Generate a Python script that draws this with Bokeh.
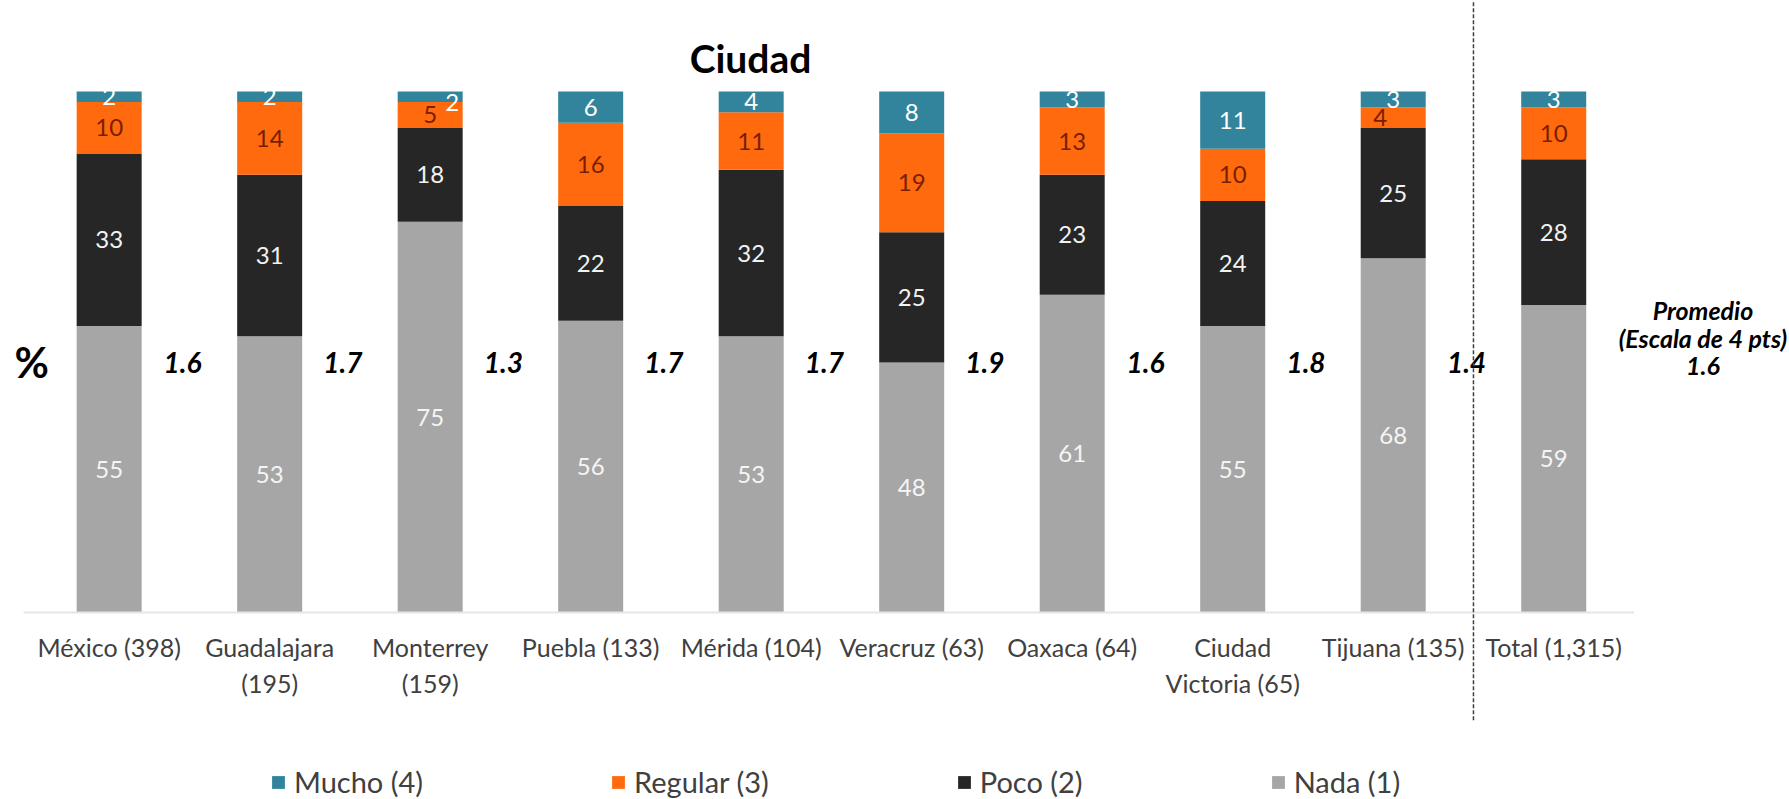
from bokeh.plotting import figure
from bokeh.models import ColumnDataSource, Range1d, FixedTicker, Legend, LegendItem, Arrow
from bokeh.core.properties import value
from bokeh.embed import file_html
from bokeh.resources import INLINE

# ---------------- data ----------------
cities = ["México (398)", "Guadalajara\n(195)", "Monterrey\n(159)", "Puebla (133)",
          "Mérida (104)", "Veracruz (63)", "Oaxaca (64)", "Ciudad\nVictoria (65)",
          "Tijuana (135)", "Total (1,315)"]
nada = [55, 53, 75, 56, 53, 48, 61, 55, 68, 59]
poco = [33, 31, 18, 22, 32, 25, 23, 24, 25, 28]
regular = [10, 14, 5, 16, 11, 19, 13, 10, 4, 10]
mucho = [2, 2, 2, 6, 4, 8, 3, 11, 3, 3]
promedios = ["1.6", "1.7", "1.3", "1.7", "1.7", "1.9", "1.6", "1.8", "1.4"]
promedio_total = "1.6"
series_labels = ["Nada (1)", "Poco (2)", "Regular (3)", "Mucho (4)"]

# ---------------- styles ----------------
colors = ["#A6A6A6", "#262626", "#FF6A0E", "#31849B"]
label_colors = ["#F5F5F5", "#F2F2F2", "#7A1E00", "#FFFFFF"]
FONT = "Lato"
# small label nudges (pixels) for crowded segments: (city index, series index) -> (dx, dy)
nudges = {(2, 3): (22, 6), (8, 2): (-13, 0)}

x = list(range(len(cities)))
src = ColumnDataSource(dict(x=x, nada=nada, poco=poco, regular=regular, mucho=mucho))

p = figure(width=1789, height=799, output_backend="svg", toolbar_location=None,
           x_range=Range1d(-0.677, 10.469), y_range=Range1d(-35.9, 117.47),
           y_axis_location=None, min_border_left=0, min_border_right=0,
           min_border_top=0, min_border_bottom=0)
p.outline_line_color = None
p.grid.visible = False
p.background_fill_color = "white"
p.border_fill_color = "white"

renderers = p.vbar_stack(["nada", "poco", "regular", "mucho"], x="x", width=0.405,
                         color=colors, line_color=None, source=src)

# baseline
p.segment(x0=[-0.533], y0=[0], x1=[9.5], y1=[0], line_color="#E6E6E6", line_width=2)

# segment labels
series = [nada, poco, regular, mucho]
lx, ly, lt, lc, dx, dy = [], [], [], [], [], []
for i in x:
    base = 0
    for s, vals in enumerate(series):
        v = vals[i]
        lx.append(i)
        ly.append(base + v / 2)
        lt.append(str(v))
        lc.append(label_colors[s])
        ox, oy = nudges.get((i, s), (0, 0))
        dx.append(ox)
        dy.append(oy)
        base += v
lsrc = ColumnDataSource(dict(x=lx, y=ly, t=lt, c=lc, dx=dx, dy=dy))
p.text(x="x", y="y", text="t", text_color="c", x_offset="dx", y_offset="dy", source=lsrc,
       text_font=value(FONT), text_font_size="24px", text_align="center",
       text_baseline="middle")

# averages between bars
avg_x = [i + 0.5 for i in range(len(promedios))]
p.text(x=avg_x, y=[48] * len(avg_x), text=promedios, text_font=value(FONT),
       text_font_size="28px", text_font_style="bold italic", text_align="center",
       text_baseline="middle", text_color="black", x_offset=-7)

# promedio block on the right
p.text(x=[9.93, 9.93, 9.93], y=[58, 52.6, 47.4],
       text=["Promedio", "(Escala de 4 pts)", promedio_total], text_font=value(FONT),
       text_font_size="25px", text_font_style="bold italic", text_align="center",
       text_baseline="middle", text_color="black")

# "%" and title
p.text(x=[-0.483], y=[48], text=["%"], text_font=value(FONT), text_font_size="42px",
       text_font_style="bold", text_align="center", text_baseline="middle",
       text_color="black")
p.text(x=[3.996], y=[106.5], text=["Ciudad"], text_font=value(FONT), text_font_size="39px",
       text_font_style="bold", text_align="center", text_baseline="middle",
       text_color="black")

# dashed separator
p.add_layout(Arrow(end=None, x_start=8.5, y_start=-20.7, x_end=8.5, y_end=117.3,
                   line_color="#404040", line_width=1.5, line_dash="4 2"))

# x axis drawn at y = 0 inside the frame
ax = p.xaxis[0]
ax.fixed_location = 0
ax.ticker = FixedTicker(ticks=x)
ax.major_label_overrides = {i: c for i, c in zip(x, cities)}
ax.axis_line_color = None
ax.major_tick_line_color = None
ax.minor_tick_line_color = None
ax.major_tick_out = 0
ax.major_tick_in = 0
ax.major_label_standoff = 20
ax.major_label_text_font = FONT
ax.major_label_text_font_size = "25px"
ax.major_label_text_color = "#404040"

# legend
order = [3, 2, 1, 0]
legend = Legend(items=[LegendItem(label=series_labels[k], renderers=[renderers[k]]) for k in order],
                orientation="horizontal", location=(270, 0),
                label_text_font=FONT, label_text_font_size="29px", label_text_color="#404040",
                glyph_width=16, glyph_height=16, label_standoff=8, label_width=0,
                spacing=187, padding=0, margin=0, border_line_color=None,
                background_fill_alpha=0)
p.add_layout(legend)

open("out.html", "w").write(file_html(p, INLINE))
